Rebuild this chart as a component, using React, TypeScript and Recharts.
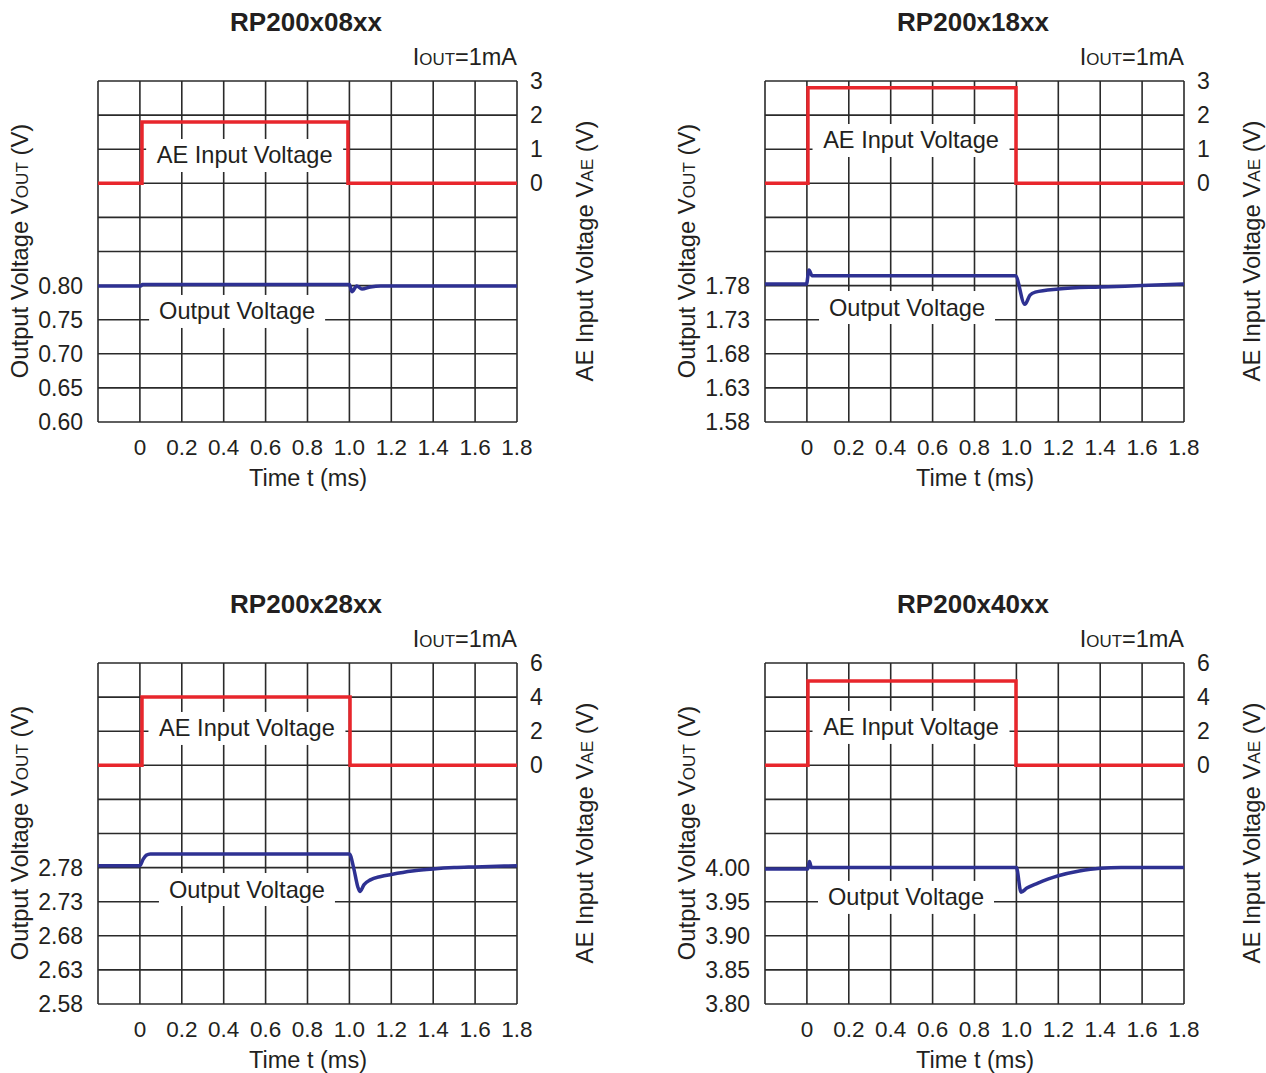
import { LineChart, Line, XAxis, YAxis, CartesianGrid, ReferenceDot } from 'recharts';

const FONT = '"Liberation Sans", Arial, Helvetica, sans-serif';
const INK = '#231f20';
const RED = '#e8262c';
const BLUE = '#2e3192';

// shared time axis (ms)
const timeTicks = [-0.2, 0, 0.2, 0.4, 0.6, 0.8, 1.0, 1.2, 1.4, 1.6, 1.8];

// RP200x08xx
const aeTime08 = [-0.2, 0.01, 0.01, 0.993, 0.993, 1.8];
const aeVolt08 = [0, 0, 1.8, 1.8, 0, 0];
const outTime08 = [-0.2, 0.005, 0.012, 1.0, 1.012, 1.035, 1.06, 1.1, 1.15, 1.8];
const outVolt08 = [0.7995, 0.7995, 0.8015, 0.8015, 0.791, 0.7995, 0.795, 0.798, 0.7995, 0.7995];
const outTicks08 = [0.6, 0.65, 0.7, 0.75, 0.8];
const aeTicks08 = [0, 1, 2, 3];

// RP200x18xx
const aeTime18 = [-0.2, 0.005, 0.005, 0.998, 0.998, 1.8];
const aeVolt18 = [0, 0, 2.8, 2.8, 0, 0];
const outTime18 = [-0.2, -0.002, 0.01, 0.025, 0.995, 1.04, 1.065, 1.09, 1.2, 1.4, 1.6, 1.8];
const outVolt18 = [1.7822, 1.7822, 1.803, 1.7945, 1.7945, 1.7525, 1.766, 1.7705, 1.775, 1.778, 1.78, 1.7822];
const outTicks18 = [1.58, 1.63, 1.68, 1.73, 1.78];
const aeTicks18 = [0, 1, 2, 3];

// RP200x28xx
const aeTime28 = [-0.2, 0.01, 0.01, 1.003, 1.003, 1.8];
const aeVolt28 = [0, 0, 4.0, 4.0, 0, 0];
const outTime28 = [-0.2, 0.0, 0.015, 0.03, 0.05, 1.0, 1.02, 1.04, 1.05, 1.07, 1.1, 1.15, 1.2, 1.3, 1.4, 1.5, 1.6, 1.8];
const outVolt28 = [2.7828, 2.7828, 2.792, 2.798, 2.8, 2.8, 2.78, 2.752, 2.745, 2.755, 2.762, 2.767, 2.77, 2.775, 2.778, 2.78, 2.781, 2.7828];
const outTicks28 = [2.58, 2.63, 2.68, 2.73, 2.78];
const aeTicks28 = [0, 2, 4, 6];

// RP200x40xx
const aeTime40 = [-0.2, 0.005, 0.005, 0.998, 0.998, 1.8];
const aeVolt40 = [0, 0, 4.95, 4.95, 0, 0];
const outTime40 = [-0.2, 0.004, 0.012, 0.022, 1.0, 1.022, 1.05, 1.1, 1.15, 1.2, 1.3, 1.4, 1.5, 1.8];
const outVolt40 = [3.998, 3.998, 4.009, 4.0, 4.0, 3.964, 3.97, 3.977, 3.983, 3.988, 3.995, 3.999, 4.0, 4.0];
const outTicks40 = [3.8, 3.85, 3.9, 3.95, 4.0];
const aeTicks40 = [0, 2, 4, 6];

const toPoints = (ts: number[], vs: number[]) => ts.map((t, i) => ({ t, v: vs[i] }));

const panels = [
  {
    title: 'RP200x08xx', left: 0, top: 0,
    ae: toPoints(aeTime08, aeVolt08), out: toPoints(outTime08, outVolt08),
    outTicks: outTicks08, aeTicks: aeTicks08,
    aeLabel: { t: 0.5, v: 0.83 }, outLabel: { t: 0.464, v: 0.7628 },
  },
  {
    title: 'RP200x18xx', left: 667, top: 0,
    ae: toPoints(aeTime18, aeVolt18), out: toPoints(outTime18, outVolt18),
    outTicks: outTicks18, aeTicks: aeTicks18,
    aeLabel: { t: 0.497, v: 1.27 }, outLabel: { t: 0.478, v: 1.7486 },
  },
  {
    title: 'RP200x28xx', left: 0, top: 582,
    ae: toPoints(aeTime28, aeVolt28), out: toPoints(outTime28, outVolt28),
    outTicks: outTicks28, aeTicks: aeTicks28,
    aeLabel: { t: 0.511, v: 2.19 }, outLabel: { t: 0.511, v: 2.7486 },
  },
  {
    title: 'RP200x40xx', left: 667, top: 582,
    ae: toPoints(aeTime40, aeVolt40), out: toPoints(outTime40, outVolt40),
    outTicks: outTicks40, aeTicks: aeTicks40,
    aeLabel: { t: 0.497, v: 2.25 }, outLabel: { t: 0.473, v: 3.957 },
  },
];

// white box with text, centred on the reference point
const boxLabel = (text: string, w: number) => (p: any) => (
  <g>
    <rect x={p.cx - w / 2} y={p.cy - 16} width={w} height={33} fill="#fff" />
    <text x={p.cx} y={p.cy} dy="0.36em" textAnchor="middle" fontSize={23.6} fontFamily={FONT} fill={INK}>
      {text}
    </text>
  </g>
);

function Panel({ cfg }: { cfg: (typeof panels)[number] }) {
  const step = +(cfg.outTicks[1] - cfg.outTicks[0]).toFixed(3);
  const outMin = cfg.outTicks[0];
  const outMax = +(outMin + 10 * step).toFixed(3);
  const outGrid = Array.from({ length: 11 }, (_, i) => +(outMin + i * step).toFixed(3));
  const outTop = cfg.outTicks[cfg.outTicks.length - 1];
  const aeStep = cfg.aeTicks[1] - cfg.aeTicks[0];
  const aeMax = cfg.aeTicks[cfg.aeTicks.length - 1];
  const aeMin = aeMax - 10 * aeStep;

  const txt: React.CSSProperties = { position: 'absolute', fontFamily: FONT, color: INK, whiteSpace: 'nowrap', lineHeight: 1 };

  return (
    <div style={{ position: 'absolute', left: cfg.left, top: cfg.top, width: 600, height: 500 }}>
      <LineChart width={600} height={500} margin={{ top: 81, right: 23, bottom: 48, left: 0 }}>
        <CartesianGrid stroke="#2a2a2a" strokeWidth={1.6} />
        <XAxis
          dataKey="t"
          type="number"
          domain={[-0.2, 1.8]}
          ticks={timeTicks}
          interval={0}
          height={30}
          axisLine={false}
          tickLine={false}
          tickSize={0}
          tickMargin={17}
          tick={{ fill: INK, fontSize: 22.5, fontFamily: FONT }}
          tickFormatter={(v: number) => (v < -0.1 ? '' : v === 0 ? '0' : v.toFixed(1))}
        />
        <YAxis
          type="number"
          domain={[outMin, outMax]}
          ticks={outGrid}
          interval={0}
          width={98}
          axisLine={false}
          tickLine={false}
          tickSize={0}
          tickMargin={15}
          tick={{ fill: INK, fontSize: 23, fontFamily: FONT }}
          tickFormatter={(v: number) => (v <= outTop + 1e-6 ? v.toFixed(2) : '')}
        />
        <YAxis
          yAxisId="r"
          orientation="right"
          type="number"
          domain={[aeMin, aeMax]}
          ticks={cfg.aeTicks}
          interval={0}
          width={60}
          axisLine={false}
          tickLine={false}
          tickSize={0}
          tickMargin={13}
          tick={{ fill: INK, fontSize: 23, fontFamily: FONT }}
        />
        <Line yAxisId="r" data={cfg.ae} dataKey="v" type="linear" stroke={RED} strokeWidth={3.5}
          dot={false} activeDot={false} isAnimationActive={false} />
        <Line data={cfg.out} dataKey="v" type="monotone" stroke={BLUE} strokeWidth={3.5}
          dot={false} activeDot={false} isAnimationActive={false} />
        <ReferenceDot yAxisId="r" x={cfg.aeLabel.t} y={cfg.aeLabel.v} r={0}
          shape={boxLabel('AE Input Voltage', 197)} />
        <ReferenceDot x={cfg.outLabel.t} y={cfg.outLabel.v} r={0}
          shape={boxLabel('Output Voltage', 176)} />
      </LineChart>

      <div style={{ ...txt, left: 306, top: 22, transform: 'translate(-50%,-50%)', fontSize: 26, fontWeight: 700 }}>
        {cfg.title}
      </div>
      <div style={{ ...txt, right: 600 - 517, top: 58, transform: 'translateY(-50%)', fontSize: 23.5 }}>
        I<span style={{ fontSize: '0.72em' }}>OUT</span>=1mA
      </div>
      <div style={{ ...txt, left: 20, top: 251, transform: 'translate(-50%,-50%) rotate(-90deg)', fontSize: 23.8 }}>
        Output Voltage V<span style={{ fontSize: '0.72em' }}>OUT</span> (V)
      </div>
      <div style={{ ...txt, left: 585, top: 251, transform: 'translate(-50%,-50%) rotate(-90deg)', fontSize: 23.8 }}>
        AE Input Voltage V<span style={{ fontSize: '0.72em' }}>AE</span> (V)
      </div>
      <div style={{ ...txt, left: 308, top: 479, transform: 'translate(-50%,-50%)', fontSize: 23.5 }}>
        Time t (ms)
      </div>
    </div>
  );
}

export default function App() {
  return (
    <div style={{ position: 'absolute', left: 0, top: 0, width: 1266, height: 1073, background: '#fff' }}>
      {panels.map((p) => (
        <Panel key={p.title} cfg={p} />
      ))}
    </div>
  );
}
